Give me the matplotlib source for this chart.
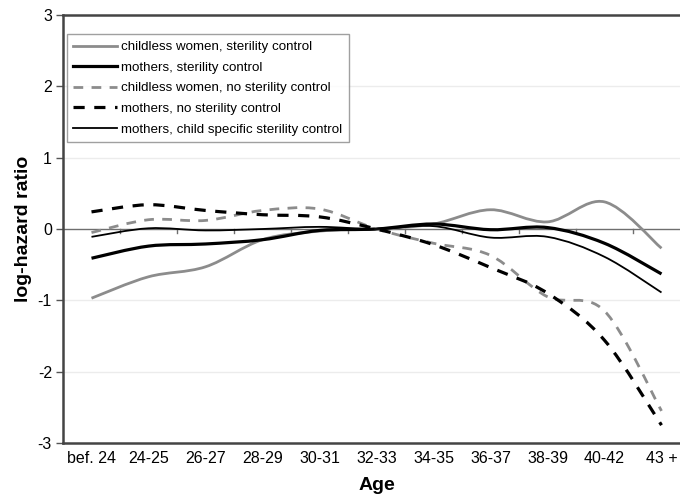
import matplotlib
matplotlib.use("Agg")
import matplotlib.pyplot as plt
import numpy as np
from matplotlib.path import Path
from matplotlib.patches import PathPatch
from matplotlib.lines import Line2D

plt.rcParams['font.family'] = ['Liberation Sans', 'DejaVu Sans']

ages = ['bef. 24', '24-25', '26-27', '28-29', '30-31', '32-33',
        '34-35', '36-37', '38-39', '40-42', '43 +']

childless_ster = [-0.97, -0.67, -0.53, -0.15, -0.03, 0.0, 0.07, 0.27, 0.10, 0.38, -0.27]
mothers_ster = [-0.41, -0.24, -0.21, -0.15, -0.02, 0.0, 0.07, -0.01, 0.02, -0.20, -0.63]
childless_noster = [-0.05, 0.13, 0.12, 0.26, 0.28, 0.0, -0.20, -0.37, -0.95, -1.15, -2.55]
mothers_noster = [0.24, 0.34, 0.26, 0.20, 0.17, 0.0, -0.22, -0.54, -0.90, -1.56, -2.75]
mothers_child = [-0.11, 0.01, -0.02, 0.0, 0.03, 0.0, 0.04, -0.12, -0.11, -0.39, -0.89]

series = [
    (childless_ster, 'childless women, sterility control', '#8c8c8c', 2.0, '-'),
    (mothers_ster, 'mothers, sterility control', '#000000', 2.3, '-'),
    (childless_noster, 'childless women, no sterility control', '#8c8c8c', 2.0, (0, (3.5, 3.0))),
    (mothers_noster, 'mothers, no sterility control', '#000000', 2.3, (0, (3.5, 3.0))),
    (mothers_child, 'mothers, child specific sterility control', '#000000', 1.3, '-'),
]


def smooth_path(xs, ys):
    # Catmull-Rom style bezier through every point (like spreadsheet "smoothed line")
    pts = np.column_stack([xs, ys]).astype(float)
    n = len(pts)
    verts = [pts[0]]
    codes = [Path.MOVETO]
    for i in range(n - 1):
        p0 = pts[i - 1] if i > 0 else pts[i]
        p1 = pts[i]
        p2 = pts[i + 1]
        p3 = pts[i + 2] if i + 2 < n else pts[i + 1]
        c1 = p1 + (p2 - p0) / 6.0
        c2 = p2 - (p3 - p1) / 6.0
        verts += [c1, c2, p2]
        codes += [Path.CURVE4] * 3
    return Path(verts, codes)


fig = plt.figure(figsize=(6.8, 5.04), dpi=100)
ax = fig.add_axes([63 / 680, 61 / 504, 627 / 680, 428 / 504])

x = np.arange(len(ages))
ax.set_xlim(-0.5, len(ages) - 0.5)
ax.set_ylim(-3, 3)

# faint gridlines and the zero line with category tick marks
for g in [-2, -1, 1, 2]:
    ax.axhline(g, color='#ececec', lw=1.0, zorder=0)
ax.axhline(0, color='#6e6e6e', lw=1.0, zorder=1)
for b in np.arange(0.5, len(ages) - 0.5, 1.0):
    ax.plot([b, b], [0, -0.06], color='#6e6e6e', lw=1.0, zorder=1)

handles = []
for vals, label, color, lw, ls in series:
    patch = PathPatch(smooth_path(x, vals), facecolor='none', edgecolor=color,
                      lw=lw, linestyle=ls, capstyle='butt', zorder=3)
    ax.add_patch(patch)
    handles.append(Line2D([], [], color=color, lw=lw, linestyle=ls, label=label))

ax.set_xticks(x)
ax.set_xticklabels(ages, fontsize=11.5)
ax.set_yticks([-3, -2, -1, 0, 1, 2, 3])
ax.set_yticklabels(['-3', '-2', '-1', '0', '1', '2', '3'], fontsize=11.5)
ax.tick_params(axis='x', length=0, pad=6)
ax.tick_params(axis='y', length=5, width=1.0, color='#555555', pad=3)

for side in ['left', 'bottom', 'top']:
    ax.spines[side].set_color('#444444')
    ax.spines[side].set_linewidth(1.8)
ax.spines['right'].set_visible(False)

ax.set_xlabel('Age', fontsize=14, fontweight='bold', labelpad=8)
ax.set_ylabel('log-hazard ratio', fontsize=14, fontweight='bold', labelpad=4)

leg = ax.legend(handles=handles, loc='upper left', bbox_to_anchor=(0.006, 0.955),
                fontsize=9.6, frameon=True, fancybox=False, handlelength=3.3,
                handletextpad=0.3, labelspacing=0.62, borderpad=0.5,
                borderaxespad=0.0)
leg.get_frame().set_edgecolor('#888888')
leg.get_frame().set_linewidth(1.0)

fig.savefig('out.png', dpi=100)
